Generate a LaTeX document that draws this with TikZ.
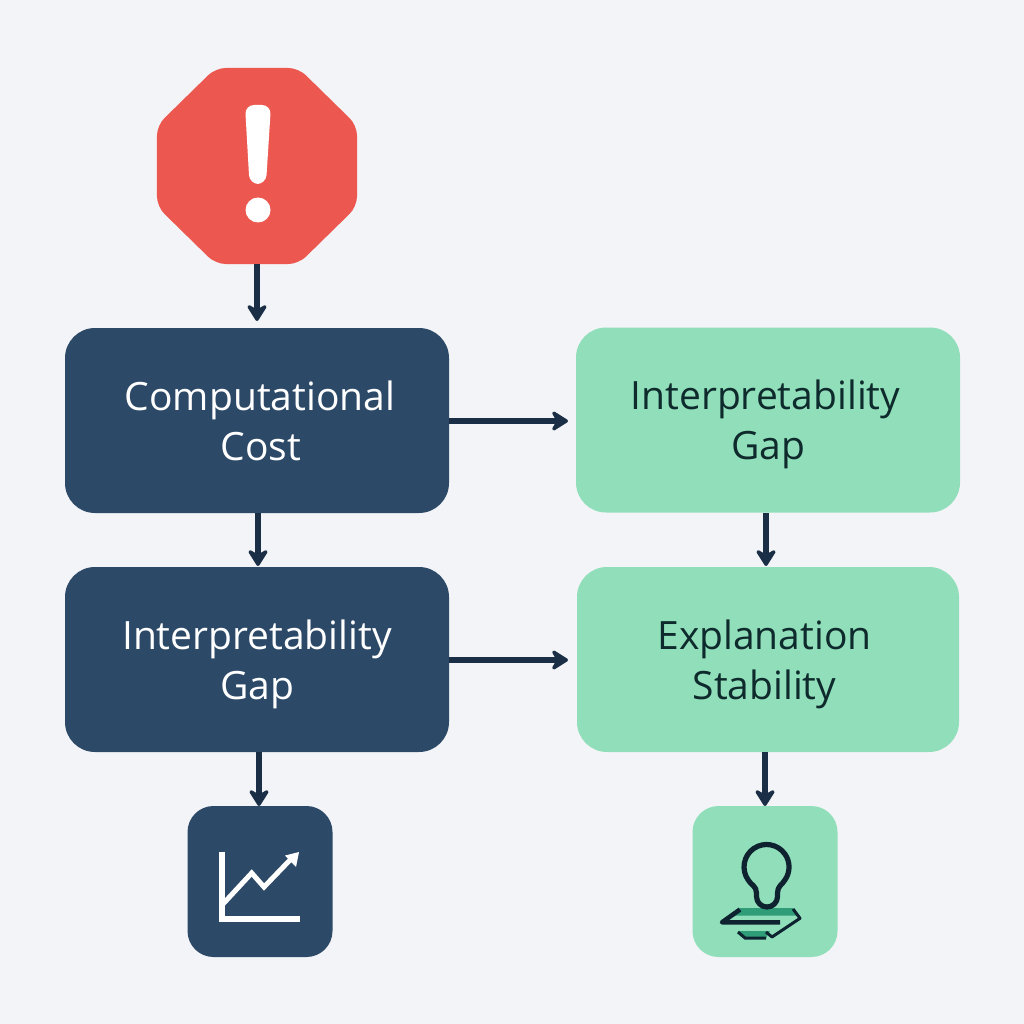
\documentclass[tikz,border=0pt]{standalone}
\usepackage{fontspec}
\setmainfont{Open Sans}
\usetikzlibrary{arrows.meta,shapes.geometric}
\definecolor{bgc}{HTML}{F3F4F7}
\definecolor{navy}{HTML}{2C4A68}
\definecolor{mint}{HTML}{90DFBA}
\definecolor{redc}{HTML}{EC574F}
\definecolor{ink}{HTML}{1A2E45}
\definecolor{bulbink}{HTML}{0E2230}
\definecolor{deepg}{HTML}{2F9E78}
\definecolor{textg}{HTML}{0F2A2C}
\newcommand{\lineone}[2][0pt]{\hspace*{#1}\smash{#2}\rule{0pt}{29.6pt}}
\newcommand{\linetwo}[2][0pt]{\hspace*{#1}\smash{#2}}
\tikzset{
  bigbox/.style={rounded corners=30pt,minimum width=384pt,minimum height=185pt,inner sep=0pt,align=center,font=\fontsize{39pt}{50pt}\selectfont},
  navybox/.style={bigbox,fill=navy,text=white},
  mintbox/.style={bigbox,fill=mint,text=textg},
  iconbox/.style={rounded corners=26pt,minimum width=145pt,minimum height=151pt,inner sep=0pt},
  flow/.style={draw=ink,line width=5.4pt,-{Stealth[length=20pt,width=25pt,inset=7pt,round]}},
  warnshape/.style={regular polygon,regular polygon sides=8,minimum size=216.5pt,inner sep=0pt,fill=redc,rounded corners=10pt,yscale=0.98,transform shape}
}
\begin{document}
\begin{tikzpicture}[x=1pt,y=-1pt]
\useasboundingbox[fill=bgc] (0,0) rectangle (1024,1024);
\node[warnshape] (warn) at (257,166) {};
\node[navybox] (cost) at (257,420.5) {\lineone[6pt]{Computational}\\\linetwo[8pt]{Cost}};
\node[navybox] (gapl) at (257,659.5) {\lineone{Interpretability}\\\linetwo{Gap}};
\node[mintbox] (gapr) at (768,420) {\lineone[-5pt]{Interpretability}\\\linetwo[0pt]{Gap}};
\node[mintbox,minimum width=382pt] (stab) at (768,659.5) {\lineone[-7pt]{Explanation}\\\linetwo[-7pt]{Stability}};
\node[iconbox,fill=navy] (chart) at (260,881.5) {};
\node[iconbox,fill=mint] (bulb) at (765,881.5) {};
% connectors
\draw[flow] (warn.south -| 257,0) -- (257,321);
\coordinate (a1) at (258,513); \coordinate (a2) at (258,566);
\draw[flow] (a1) -- (a2);
\coordinate (a3) at (259,752); \coordinate (a4) at (259,806);
\draw[flow] (a3) -- (a4);
\coordinate (a5) at (766,513); \coordinate (a6) at (766,566);
\draw[flow] (a5) -- (a6);
\coordinate (a7) at (765,752); \coordinate (a8) at (765,806);
\draw[flow] (a7) -- (a8);
\draw[flow] (cost.east |- 0,421) -- (568,421);
\draw[flow] (gapl.east |- 0,660) -- (568,660);
% exclamation mark
\fill[white,rounded corners=9pt] (245,105) -- (271,105) -- (266,184) -- (249.5,184) -- cycle;
\fill[white] (258,210) circle (12.5);
% chart icon
\draw[white,line width=6pt,line join=miter] (221.5,851.5) -- (221.5,919) -- (300,919);
\draw[white,line width=5pt,line join=miter] (223,904) -- (251.7,873) -- (264,887) -- (290,860);
\fill[white] (285,855.5) -- (299,852) -- (296,867) -- cycle;
% bulb icon
\fill[deepg] (740,908) -- (793,908) -- (798,915.5) -- (733,915.5) -- cycle;
\fill[deepg] (738,931) -- (770,931) -- (766,938) -- (746,938) -- cycle;
\draw[bulbink,line width=5.2pt,line join=round]
  (756.5,893) .. controls (756.5,886) and (751,885) .. (748.1,879.9)
  arc[start angle=215,end angle=-35,radius=22.5pt]
  .. controls (782,885) and (777.5,886) .. (777.5,893)
  -- (777.5,896.5) arc[start angle=0,end angle=-180,radius=10.5pt] -- cycle;
\draw[bulbink,line width=4.6pt,line join=round] (740,909.5) -- (722,922.3) -- (780,922.3);
\draw[bulbink,line width=3pt,line join=round] (793,909) -- (800,918.3) -- (772,937) -- (766,932);
\draw[bulbink,line width=3pt] (738,932) -- (745,938) -- (766,938);
\end{tikzpicture}
\end{document}
